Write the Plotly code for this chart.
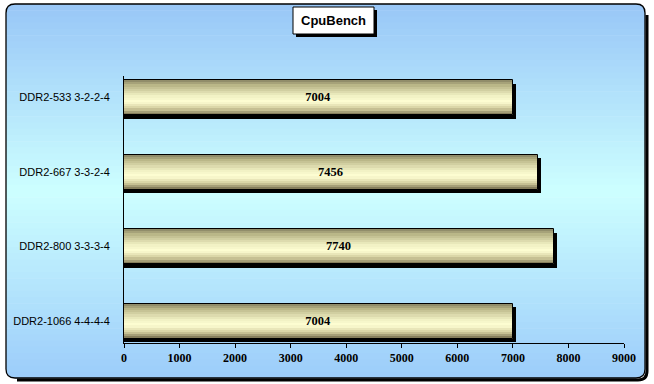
import plotly.graph_objects as go

# ---- data ----
categories = ["DDR2-533 3-2-2-4", "DDR2-667 3-3-2-4", "DDR2-800 3-3-3-4", "DDR2-1066 4-4-4-4"]
values = [7004, 7456, 7740, 7004]
title_text = "CpuBench"
x_ticks = [0, 1000, 2000, 3000, 4000, 5000, 6000, 7000, 8000, 9000]

# ---- layout geometry (pixels) ----
W_PX, H_PX = 654, 384
L, R, T, B = 124, 30, 76, 41
PW, PH = W_PX - L - R, H_PX - T - B


def px(x):
    return (x - L) / PW


def py(y):
    return (H_PX - B - y) / PH


def P(x, y):
    return f"{px(x):.5f},{py(y):.5f}"


def lerp(c1, c2, t):
    return tuple(int(round(a + (b - a) * t)) for a, b in zip(c1, c2))


def grad(stops, t):
    for (t1, c1), (t2, c2) in zip(stops, stops[1:]):
        if t1 <= t <= t2:
            return lerp(c1, c2, (t - t1) / (t2 - t1) if t2 > t1 else 0)
    return stops[-1][1]


shapes = []

# background gradient
bg_stops = [(0.0, (152, 198, 247)), (0.5, (205, 255, 255)), (1.0, (156, 204, 250))]
fx0, fy0, fx1, fy1 = 6, 4, 645, 378
N_BG = 60
for i in range(N_BG):
    ya = fy0 + (fy1 - fy0) * i / N_BG
    yb = fy0 + (fy1 - fy0) * (i + 1) / N_BG + 0.6
    c = grad(bg_stops, (i + 0.5) / N_BG)
    shapes.append(dict(type="rect", xref="paper", yref="paper", layer="below",
                       x0=px(fx0), x1=px(fx1), y0=py(ya), y1=py(yb),
                       fillcolor=f"rgb{c}", line=dict(width=0)))

# corner masks (white) and frame
r = 9
masks = [
    f"M {P(fx0-1, fy0-1)} L {P(fx0+r, fy0-1)} L {P(fx0+r, fy0)} Q {P(fx0, fy0)} {P(fx0, fy0+r)} L {P(fx0-1, fy0+r)} Z",
    f"M {P(fx1+1, fy0-1)} L {P(fx1-r, fy0-1)} L {P(fx1-r, fy0)} Q {P(fx1, fy0)} {P(fx1, fy0+r)} L {P(fx1+1, fy0+r)} Z",
    f"M {P(fx0-1, fy1+1)} L {P(fx0+r, fy1+1)} L {P(fx0+r, fy1)} Q {P(fx0, fy1)} {P(fx0, fy1-r)} L {P(fx0-1, fy1-r)} Z",
    f"M {P(fx1+1, fy1+1)} L {P(fx1-r, fy1+1)} L {P(fx1-r, fy1)} Q {P(fx1, fy1)} {P(fx1, fy1-r)} L {P(fx1+1, fy1-r)} Z",
]
for m in masks:
    shapes.append(dict(type="path", xref="paper", yref="paper", layer="below", path=m,
                       fillcolor="white", line=dict(width=0)))

# shadow along right and bottom
sh = 2
shadow_path = (f"M {P(fx1+sh, fy0+r+sh)} L {P(fx1+sh, fy1-r+sh)} Q {P(fx1+sh, fy1+sh)} {P(fx1-r+sh, fy1+sh)} "
               f"L {P(fx0+r+sh, fy1+sh)}")
shapes.append(dict(type="path", xref="paper", yref="paper", layer="below", path=shadow_path,
                   line=dict(color="black", width=3)))
frame = (f"M {P(fx0+r, fy0)} L {P(fx1-r, fy0)} Q {P(fx1, fy0)} {P(fx1, fy0+r)} "
         f"L {P(fx1, fy1-r)} Q {P(fx1, fy1)} {P(fx1-r, fy1)} "
         f"L {P(fx0+r, fy1)} Q {P(fx0, fy1)} {P(fx0, fy1-r)} "
         f"L {P(fx0, fy0+r)} Q {P(fx0, fy0)} {P(fx0+r, fy0)} Z")
shapes.append(dict(type="path", xref="paper", yref="paper", layer="below", path=frame,
                   line=dict(color="black", width=1.3)))

# title box with shadow
tx0, ty0, tx1, ty1 = 293, 7, 374, 34
shapes.append(dict(type="rect", xref="paper", yref="paper", layer="above",
                   x0=px(tx0 + 3), x1=px(tx1 + 3), y0=py(ty0 + 3), y1=py(ty1 + 3),
                   fillcolor="black", line=dict(width=0)))
shapes.append(dict(type="rect", xref="paper", yref="paper", layer="above",
                   x0=px(tx0), x1=px(tx1), y0=py(ty0), y1=py(ty1),
                   fillcolor="white", line=dict(color="black", width=1)))

annotations = [dict(text=f"<b>{title_text}</b>", xref="paper", yref="paper",
                    x=px((tx0 + tx1) / 2), y=py((ty0 + ty1) / 2 + 0.5), showarrow=False,
                    xanchor="center", yanchor="middle",
                    font=dict(family="Liberation Sans, Arial", size=13, color="black"))]

fig = go.Figure()

BW = 0.47  # bar thickness in category units

# shadow of bars
fig.add_trace(go.Bar(
    y=categories, x=[v + 45 for v in values], orientation="h",
    width=BW, offset=-BW / 2 + 0.05, marker=dict(color="black", line=dict(width=0)),
    hoverinfo="skip", showlegend=False))

# cylinder-like gradient strips
bar_stops = [(0.0, (135, 130, 98)), (0.15, (185, 182, 135)), (0.45, (240, 240, 195)),
             (0.62, (255, 255, 212)), (0.82, (210, 205, 158)), (1.0, (118, 110, 78))]
N_STRIPS = 16
sw = BW / N_STRIPS
for i in range(N_STRIPS):
    c = grad(bar_stops, (i + 0.5) / N_STRIPS)
    fig.add_trace(go.Bar(
        y=categories, x=values, orientation="h",
        width=sw * 1.08, offset=-BW / 2 + i * sw,
        marker=dict(color=f"rgb{c}", line=dict(width=0)),
        hoverinfo="skip", showlegend=False))

# outline + value labels
fig.add_trace(go.Bar(
    y=categories, x=values, orientation="h",
    width=BW, offset=-BW / 2,
    marker=dict(color="rgba(0,0,0,0)", line=dict(color="black", width=1)),
    text=[str(v) for v in values], textposition="inside", insidetextanchor="middle",
    textangle=0,
    textfont=dict(family="Liberation Serif, Times New Roman", size=12.5, color="black", weight="bold"),
    showlegend=False))

bottom_idx = len(categories) - 1
fig.update_layout(
    width=W_PX, height=H_PX,
    margin=dict(l=L, r=R, t=T, b=B, pad=0, autoexpand=False),
    paper_bgcolor="white", plot_bgcolor="rgba(0,0,0,0)",
    barmode="overlay", bargap=0,
    shapes=shapes, annotations=annotations,
    showlegend=False,
    uniformtext=dict(mode=False),
    xaxis=dict(range=[0, 9000], tickvals=x_ticks, ticktext=[str(t) for t in x_ticks],
               automargin=False,
               showgrid=False, zeroline=False, showline=True, linecolor="black", linewidth=1,
               ticks="outside", ticklen=4, tickcolor="black",
               tickfont=dict(family="Liberation Serif, Times New Roman", size=12, color="black", weight="bold")),
    yaxis=dict(type="category", categoryorder="array", categoryarray=categories,
               range=[bottom_idx + 0.295, -0.289], automargin=False,
               showgrid=False, zeroline=False, showline=True, linecolor="black", linewidth=1,
               ticks="", ticklabelstandoff=11,
               tickfont=dict(family="Liberation Sans, Arial", size=11, color="black")),
)

fig.write_html("out.html")
